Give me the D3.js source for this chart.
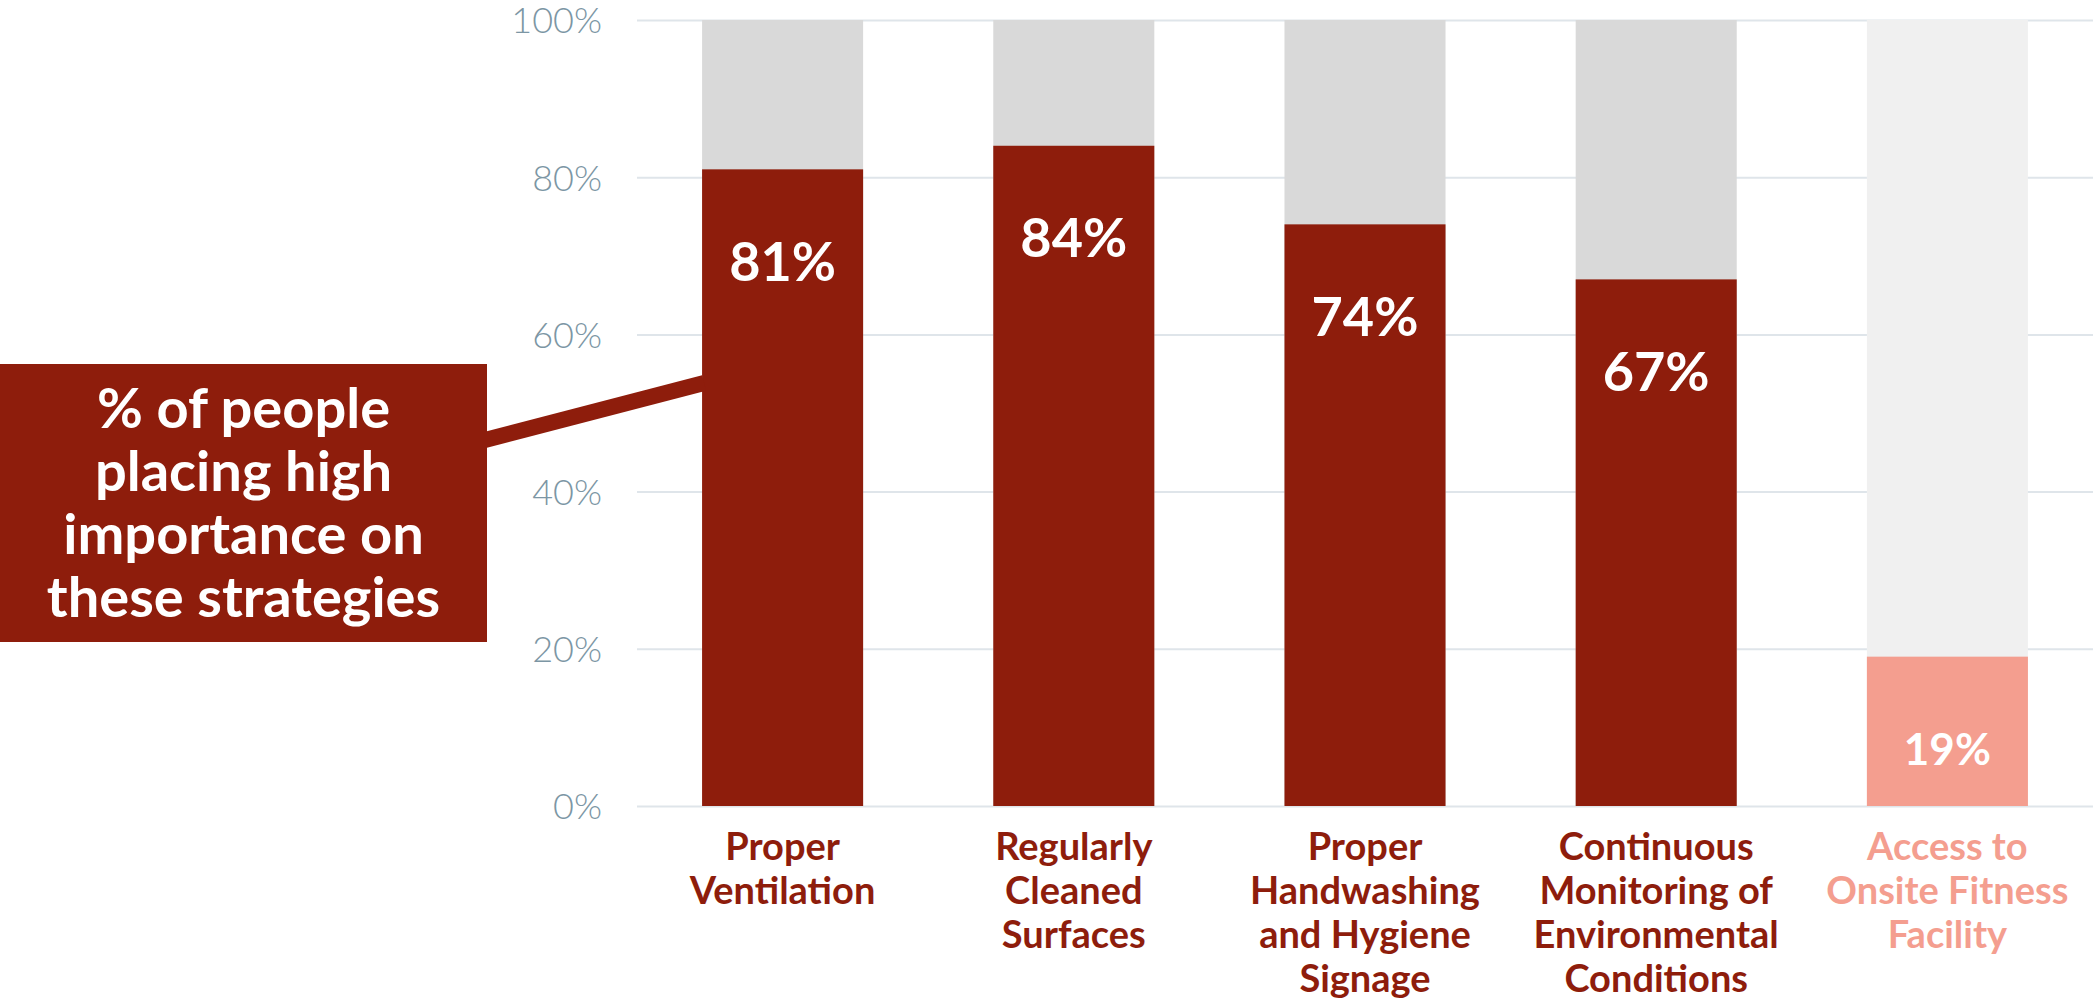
<!DOCTYPE html>
<html>
<head>
<meta charset="utf-8">
<script src="https://cdn.jsdelivr.net/npm/d3@7"></script>
<style>
  html, body { margin: 0; padding: 0; background: #ffffff; }
  svg { display: block; }
  text { font-family: Lato, "Open Sans", sans-serif; }
</style>
</head>
<body>
<svg id="chart" width="2093" height="999"></svg>
<script>
// Strategy categories, each split into the lines shown under its bar
const categories = [
  "Proper Ventilation",
  "Regularly Cleaned Surfaces",
  "Proper Handwashing and Hygiene Signage",
  "Continuous Monitoring of Environmental Conditions",
  "Access to Onsite Fitness Facility"
];
const categoryLines = [
  ["Proper", "Ventilation"],
  ["Regularly", "Cleaned", "Surfaces"],
  ["Proper", "Handwashing", "and Hygiene", "Signage"],
  ["Continuous", "Monitoring of", "Environmental", "Conditions"],
  ["Access to", "Onsite Fitness", "Facility"]
];
// Share of people placing high importance on each strategy (%)
const values = [81, 84, 74, 67, 19];
const yTicks = [0, 20, 40, 60, 80, 100];
const mutedCategory = "Access to Onsite Fitness Facility";
const calloutLines = ["% of people", "placing high", "importance on", "these strategies"];

const svg = d3.select("#chart");

const dark = "#8e1d0c";
const light = "#f49e8f";
const track = "#d9d9d9";
const trackMuted = "#f0f0f0";

const x = d3.scaleBand()
  .domain(categories)
  .range([637, 2093])
  .paddingInner(0.447)
  .paddingOuter(0.2235);

const y = d3.scaleLinear().domain([0, 100]).range([806, 20]);

// Gridlines and tick labels
const yAxis = d3.axisLeft(y)
  .tickValues(yTicks)
  .tickFormat(d => d + "%")
  .tickSize(-(2093 - 637))
  .tickPadding(35);

const gAxis = svg.append("g")
  .attr("transform", "translate(637,0)")
  .call(yAxis);
gAxis.select(".domain").remove();
gAxis.selectAll(".tick line")
  .attr("stroke", "#dfe5ea")
  .attr("stroke-width", 2);
gAxis.selectAll(".tick text")
  .attr("fill", "#7c96a4")
  .attr("font-size", 36)
  .attr("font-weight", 300)
  .attr("dy", "0.36em");

const rows = categories.map((c, i) => ({ c, v: values[i], lines: categoryLines[i], muted: c === mutedCategory }));

// Full-height background tracks
svg.append("g").selectAll("rect")
  .data(rows)
  .join("rect")
  .attr("x", d => x(d.c))
  .attr("width", x.bandwidth())
  .attr("y", y(100))
  .attr("height", y(0) - y(100))
  .attr("fill", d => d.muted ? trackMuted : track);

// Value bars
svg.append("g").selectAll("rect")
  .data(rows)
  .join("rect")
  .attr("x", d => x(d.c))
  .attr("width", x.bandwidth())
  .attr("y", d => y(d.v))
  .attr("height", d => y(0) - y(d.v))
  .attr("fill", d => d.muted ? light : dark);

// Value labels near the top of each bar
svg.append("g").selectAll("text")
  .data(rows)
  .join("text")
  .attr("x", d => x(d.c) + x.bandwidth() / 2)
  .attr("y", d => y(d.v) + 92)
  .attr("dy", "0.36em")
  .attr("text-anchor", "middle")
  .attr("fill", "#ffffff")
  .attr("font-weight", 700)
  .attr("font-size", d => d.muted ? 44 : 54)
  .text(d => d.v + "%");

// Category labels
const catG = svg.append("g").selectAll("text")
  .data(rows)
  .join("text")
  .attr("text-anchor", "middle")
  .attr("fill", d => d.muted ? light : dark)
  .attr("font-weight", 700)
  .attr("font-size", 38);
catG.selectAll("tspan")
  .data(d => d.lines.map(l => ({ l, cx: x(d.c) + x.bandwidth() / 2 })))
  .join("tspan")
  .attr("x", d => d.cx)
  .attr("y", (d, i) => 860 + i * 44)
  .text(d => d.l);

// Callout box with connector to the first bar
const boxX = 0, boxY = 364, boxW = 487, boxH = 278;
svg.append("line")
  .attr("x1", boxX + boxW - 2)
  .attr("y1", 440)
  .attr("x2", x(categories[0]) + 2)
  .attr("y2", 383)
  .attr("stroke", dark)
  .attr("stroke-width", 16);
svg.append("rect")
  .attr("x", boxX).attr("y", boxY)
  .attr("width", boxW).attr("height", boxH)
  .attr("fill", dark);
svg.append("text")
  .attr("text-anchor", "middle")
  .attr("fill", "#ffffff")
  .attr("font-weight", 700)
  .attr("font-size", 56)
  .selectAll("tspan")
  .data(calloutLines)
  .join("tspan")
  .attr("x", boxX + boxW / 2)
  .attr("y", (d, i) => 428 + i * 63)
  .text(d => d);
</script>
</body>
</html>
